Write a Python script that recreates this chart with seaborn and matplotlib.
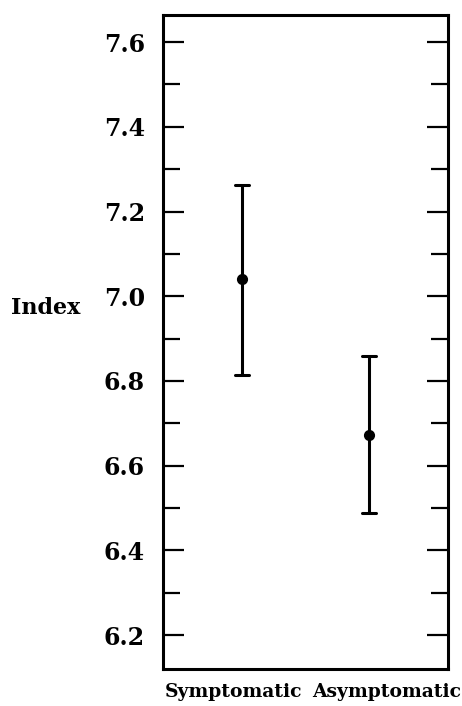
import pandas as pd
import matplotlib
matplotlib.use("Agg")
import matplotlib.pyplot as plt
from matplotlib.ticker import MultipleLocator
import seaborn as sns

# values
groups = ["Symptomatic", "Asymptomatic"]
means = [7.04, 6.672]
lower = [6.815, 6.488]
upper = [7.262, 6.86]

rows = []
for g, lo, m, hi in zip(groups, lower, means, upper):
    for v in (lo, m, hi):
        rows.append({"group": g, "index": v})
df = pd.DataFrame(rows)

sns.set_style("ticks", {"axes.edgecolor": "black", "text.color": "black",
                        "xtick.color": "black", "ytick.color": "black",
                        "axes.labelcolor": "black"})
plt.rcParams["font.family"] = ["DejaVu Serif"]
plt.rcParams["font.weight"] = "bold"

fig = plt.figure(figsize=(4.62, 7.06), dpi=100)
ax = fig.add_axes([0.3528, 0.0524, 0.6169, 0.9264])

sns.pointplot(data=df, x="group", y="index", order=groups,
              estimator="median", errorbar=lambda x: (x.min(), x.max()),
              linestyle="none", color="black", capsize=0.11,
              markersize=6, err_kws={"linewidth": 2.2}, ax=ax)

ax.set_xlim(-0.62, 1.62)
ax.set_ylim(6.12, 7.664)
ax.yaxis.set_major_locator(MultipleLocator(0.2))
ax.yaxis.set_minor_locator(MultipleLocator(0.1))
ax.set_yticklabels([f"{t:.1f}" for t in ax.get_yticks()])
ax.set_ylim(6.12, 7.664)
ax.tick_params(axis="y", which="both", direction="in", left=True, right=True,
               width=1.6, labelsize=17, pad=13, colors="black")
ax.tick_params(axis="y", which="major", length=15)
ax.tick_params(axis="y", which="minor", length=12.5)
ax.tick_params(axis="x", bottom=False, labelbottom=False)
for s in ax.spines.values():
    s.set_linewidth(2.2)
    s.set_color("black")
    s.set_visible(True)

ax.set_xlabel("")
ax.set_ylabel("Index", rotation=0, fontsize=16, fontweight="bold", ha="center",
              va="center", color="black")
ax.yaxis.set_label_coords(-0.41, 0.552)

# category names under the frame
ax.text(0.246, -0.035, groups[0], transform=ax.transAxes, ha="center", va="center",
        fontsize=13.5, fontweight="bold", color="black")
ax.text(0.786, -0.035, groups[1], transform=ax.transAxes, ha="center", va="center",
        fontsize=13.5, fontweight="bold", color="black")

fig.savefig("out.png", dpi=100)
